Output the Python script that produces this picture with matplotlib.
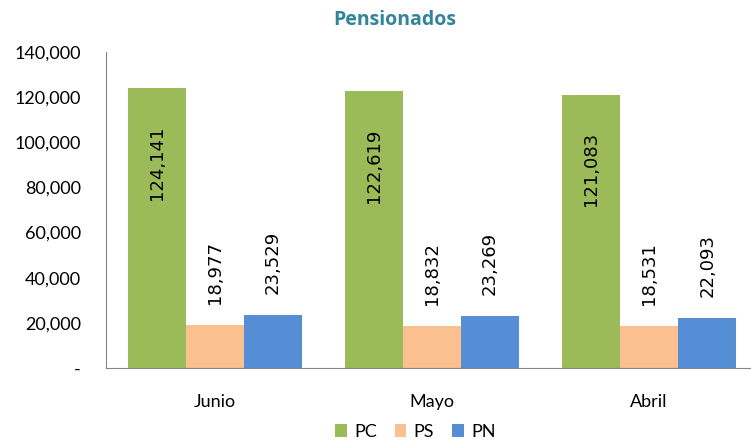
import numpy as np
import matplotlib.pyplot as plt
from matplotlib.ticker import FuncFormatter

# data
meses = ["Junio", "Mayo", "Abril"]
pc = [124141, 122619, 121083]
ps = [18977, 18832, 18531]
pn = [23529, 23269, 22093]
series = ["PC", "PS", "PN"]
colores = ["#9BBB59", "#FAC090", "#558ED5"]

fig = plt.figure(figsize=(7.51, 4.45), dpi=100)
# plot area runs slightly past the right edge, as in the original
ax = fig.add_axes([0.141, 0.173, 0.868, 0.71])

x = np.arange(len(meses))
w = 0.267
for i, (vals, name, c) in enumerate(zip([pc, ps, pn], series, colores)):
    pos = x + (i - 1) * w
    bars = ax.bar(pos, vals, width=w, color=c, label=name)
    for b, v in zip(bars, vals):
        txt = f"{v:,}"
        xc = b.get_x() + b.get_width() / 2
        if name == "PC":
            ax.annotate(txt, (xc, v), xytext=(0, -27), textcoords="offset points",
                        rotation=90, ha="center", va="top", fontsize=13,
                        family="DejaVu Sans")
        else:
            ax.annotate(txt, (xc, v), xytext=(0, 15), textcoords="offset points",
                        rotation=90, ha="center", va="bottom", fontsize=13,
                        family="DejaVu Sans")

ax.set_xlim(-0.5, 2.5)
ax.set_ylim(0, 140000)
ax.set_yticks(np.arange(0, 140001, 20000))
ax.yaxis.set_major_formatter(FuncFormatter(lambda v, p: "-" if v == 0 else f"{int(v):,}"))
ax.set_xticks(x)
ax.set_xticklabels(meses)
ax.tick_params(axis="both", length=0, labelsize=13)
ax.tick_params(axis="y", pad=18)
ax.tick_params(axis="x", pad=19)
for lab in ax.get_xticklabels() + ax.get_yticklabels():
    lab.set_family("Lato")

for s in ["top", "right"]:
    ax.spines[s].set_visible(False)
for s in ["left", "bottom"]:
    ax.spines[s].set_color("#868686")

fig.text(0.525, 0.955, "Pensionados", ha="center", va="center", fontsize=14,
         fontweight="bold", color="#31849B", family="Open Sans")

fig.legend(loc="center", bbox_to_anchor=(0.553, 0.029), ncol=3, frameon=False,
           prop={"family": "Lato", "size": 13}, handlelength=0.65, handleheight=0.7,
           handletextpad=0.4, columnspacing=1.0)

fig.savefig("out.png", dpi=100)
